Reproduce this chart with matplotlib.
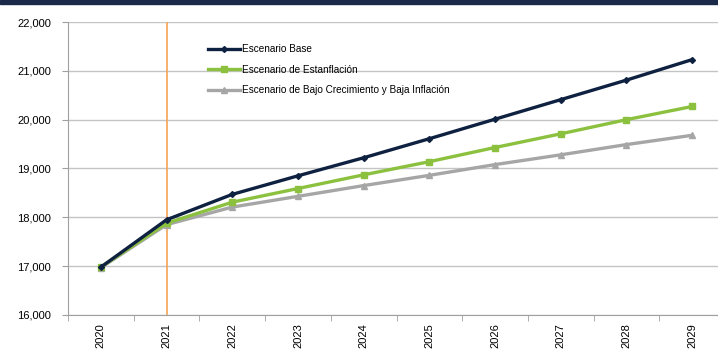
import matplotlib.pyplot as plt
from matplotlib.ticker import FuncFormatter, FixedLocator
from matplotlib.patches import Rectangle

plt.rcParams['font.family'] = ['Liberation Sans Narrow', 'Liberation Sans', 'DejaVu Sans']

years = ['2020', '2021', '2022', '2023', '2024', '2025', '2026', '2027', '2028', '2029']
base = [16980, 17950, 18470, 18850, 19220, 19610, 20010, 20410, 20810, 21230]
estanflacion = [16980, 17880, 18310, 18590, 18870, 19140, 19430, 19710, 20000, 20270]
bajo = [16970, 17850, 18210, 18430, 18650, 18860, 19080, 19280, 19490, 19680]

fig = plt.figure(figsize=(7.18, 3.54), dpi=100)
ax = fig.add_axes([68 / 718, 1 - 315 / 354, 657 / 718, 293 / 354])

x = list(range(len(years)))
ax.plot(x, base, color='#0f2140', lw=2.4, marker='D', ms=3, label='Escenario Base', zorder=4)
ax.plot(x, estanflacion, color='#8cc13f', lw=2.4, marker='s', ms=4, label='Escenario de Estanflación', zorder=3)
ax.plot(x, bajo, color='#a6a6a6', lw=2.4, marker='^', ms=4, label='Escenario de Bajo Crecimiento y Baja Inflación', zorder=2)
ax.axvline(1, color='#f5a352', lw=1.2, zorder=1)

ax.set_xlim(-0.5, 9.5)
ax.set_ylim(16000, 22000)
ax.set_yticks(range(16000, 22001, 1000))
ax.yaxis.set_major_formatter(FuncFormatter(lambda v, p: f'{int(v):,}'))
ax.grid(axis='y', color='#c4c4c4', lw=1)
ax.set_axisbelow(True)

ax.set_xticks(x)
ax.set_xticklabels(years, rotation=90)
ax.xaxis.set_minor_locator(FixedLocator([i + 0.5 for i in range(-1, 10)]))
ax.tick_params(axis='x', which='major', length=0, pad=6, labelsize=8)
ax.tick_params(axis='x', which='minor', length=4, color='#a0a0a0')
ax.tick_params(axis='y', length=4, color='#a0a0a0', labelsize=8, pad=8)

for s in ['top', 'right']:
    ax.spines[s].set_visible(False)
for s in ['left', 'bottom']:
    ax.spines[s].set_color('#a0a0a0')

leg = ax.legend(loc='upper left', bbox_to_anchor=(0.2, 0.955), frameon=False,
                fontsize=7.2, handlelength=3.2, handletextpad=0.2, labelspacing=1.05)

fig.patches.append(Rectangle((0, 1 - 4 / 354), 1, 4 / 354, transform=fig.transFigure,
                             color='#1b2a48', zorder=10))

fig.savefig('out.png', dpi=100)
